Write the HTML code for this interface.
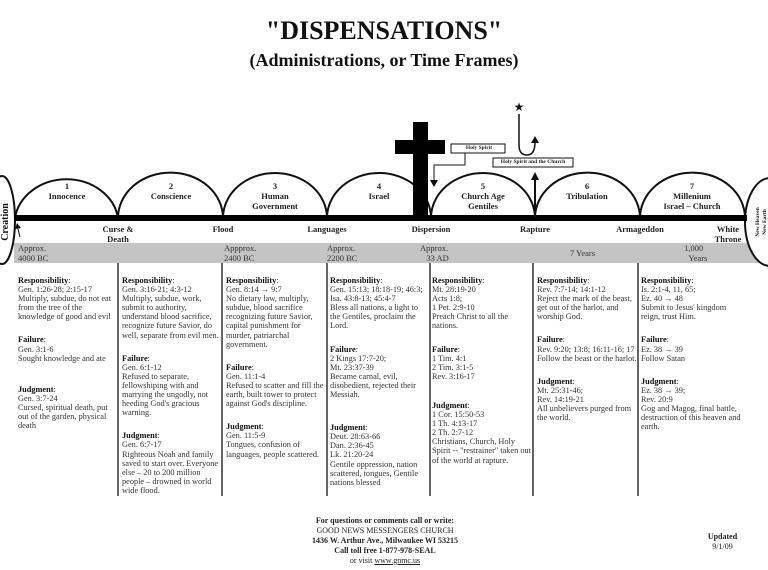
<!DOCTYPE html>
<html><head><meta charset="utf-8"><style>
body{margin:0;width:768px;height:570px;background:#fff;position:relative;overflow:hidden;font-family:"Liberation Serif",serif;color:#222}
.a{position:absolute}
.t{position:absolute;font-size:8.3px;line-height:9.1px;color:#333}
.t b{color:#111}
.t p{margin:0 0 14px 0}
.c{position:absolute;text-align:center;font-size:8.5px;line-height:10px;font-weight:bold;color:#222}
.g{position:absolute;font-size:8.5px;line-height:10px;color:#333}
</style></head><body>
<div class="a" style="left:0;width:768px;top:16px;text-align:center;font-size:26px;font-weight:bold;color:#111">"DISPENSATIONS"</div>
<div class="a" style="left:0;width:768px;top:50px;text-align:center;font-size:18px;font-weight:bold;color:#111">(Administrations, or Time Frames)</div>
<div class="a" style="left:14px;top:243px;width:754px;height:20px;background:#c4c4c4"></div>
<svg class="a" style="left:0;top:0" width="768" height="570">
<g fill="none" stroke="#111" stroke-width="2">
<path d="M15 218 A52 45 0 0 1 118 218"/><path d="M118 218 A52 45 0 0 1 223 218"/>
<path d="M223 218 A52 45 0 0 1 327 218"/><path d="M327 218 A52 45 0 0 1 431 218"/>
<path d="M431 218 A52 45 0 0 1 535 218"/><path d="M535 218 A52 45 0 0 1 640 218"/>
<path d="M640 218 A52 45 0 0 1 745 218"/>
<ellipse cx="2" cy="220" rx="13" ry="44" fill="#fff"/>
<ellipse cx="770" cy="222" rx="25" ry="44" fill="#fff"/>
</g>
<rect x="14" y="215" width="733" height="6" fill="#000"/>
<rect x="413" y="122" width="15" height="96" fill="#000"/>
<rect x="395" y="140" width="50" height="14" fill="#000"/>
<g stroke="#333" stroke-width="1.5">
<line x1="118" y1="263" x2="118" y2="496"/><line x1="222" y1="263" x2="222" y2="496"/>
<line x1="327" y1="263" x2="327" y2="496"/><line x1="430" y1="263" x2="430" y2="496"/>
<line x1="533" y1="263" x2="533" y2="496"/><line x1="638" y1="263" x2="638" y2="496"/>
</g>
<rect x="451" y="144" width="54" height="9" fill="#fff" stroke="#111" stroke-width="1"/>
<rect x="493" y="158" width="80" height="9" fill="#fff" stroke="#111" stroke-width="1"/>
<path d="M465 153 V165 H434 V181" fill="none" stroke="#111" stroke-width="1"/>
<path d="M430 180 L434 187 L438 180Z" fill="#111"/>
<line x1="535" y1="218" x2="535" y2="178" stroke="#111" stroke-width="2"/>
<path d="M531 180 L535 172 L539 180Z" fill="#111"/>
<path d="M519 114 V145 Q519 155 527 155 Q535 155 535 142" fill="none" stroke="#111" stroke-width="1.5"/>
<path d="M531 143 L535 136 L539 143Z" fill="#111"/>
<text x="519" y="111" font-size="12" text-anchor="middle" fill="#111">★</text>
<path d="M20 237 L17 225" stroke="#111" stroke-width="1"/><path d="M15 229 L17 223 L21 228Z" fill="#111"/>
<text x="8" y="222" transform="rotate(-90 8 222)" font-family="Liberation Serif" font-weight="bold" font-size="10" text-anchor="middle" fill="#111">Creation</text>
<text x="759" y="222" transform="rotate(-90 759 222)" font-family="Liberation Serif" font-weight="bold" font-size="5.5" text-anchor="middle" fill="#111">New Heaven</text>
<text x="766" y="222" transform="rotate(-90 766 222)" font-family="Liberation Serif" font-weight="bold" font-size="5.5" text-anchor="middle" fill="#111">New Earth</text>
</svg>
<div class="c" style="left:462px;top:144px;width:34px;font-size:5.5px;line-height:9px">Holy Spirit</div>
<div class="c" style="left:494px;top:158px;width:78px;font-size:5.5px;line-height:9px">Holy Spirit and the Church</div>
<div class="c" style="left:17px;top:181px;width:100px">1<br>Innocence</div>
<div class="c" style="left:121px;top:181px;width:100px">2<br>Conscience</div>
<div class="c" style="left:225px;top:181px;width:100px">3<br>Human<br>Government</div>
<div class="c" style="left:329px;top:181px;width:100px">4<br>Israel</div>
<div class="c" style="left:433px;top:181px;width:100px">5<br>Church Age<br>Gentiles</div>
<div class="c" style="left:537px;top:181px;width:100px">6<br>Tribulation</div>
<div class="c" style="left:642px;top:181px;width:100px">7<br>Millenium<br>Israel – Church</div>
<div class="c" style="left:88px;top:224px;width:60px">Curse &amp;<br>Death</div>
<div class="c" style="left:193px;top:224px;width:60px">Flood</div>
<div class="c" style="left:297px;top:224px;width:60px">Languages</div>
<div class="c" style="left:401px;top:224px;width:60px">Dispersion</div>
<div class="c" style="left:505px;top:224px;width:60px">Rapture</div>
<div class="c" style="left:610px;top:224px;width:60px">Armageddon</div>
<div class="c" style="left:708px;top:224px;width:40px">White<br>Throne</div>
<div class="g" style="left:18px;top:243px">Approx.<br>4000 BC</div>
<div class="g" style="left:224px;top:243px">Appprox.<br>2400 BC</div>
<div class="g" style="left:327px;top:243px">Approx.<br>2200 BC</div>
<div class="g" style="left:420px;top:243px">Approx.<br>&nbsp;&nbsp;&nbsp;33 AD</div>
<div class="g" style="left:570px;top:248px">7 Years</div>
<div class="g" style="left:682px;top:243px">&nbsp;1,000<br>&nbsp;&nbsp;&nbsp;Years</div>
<div class="t" style="left:18px;top:276px;width:100px"><p><b>Responsibility</b>:<br>Gen. 1:26-28; 2:15-17<br>Multiply, subdue, do not eat from the tree of the knowledge of good and evil</p><p><b>Failure</b>:<br>Gen. 3:1-6<br>Sought knowledge and ate</p><p style="margin-top:22px"><b>Judgment</b>:<br>Gen. 3:7-24<br>Cursed, spiritual death, put out of the garden, physical death</p></div>
<div class="t" style="left:122px;top:276px;width:100px"><p><b>Responsibility</b>:<br>Gen. 3:16-21; 4:3-12<br>Multiply, subdue, work, submit to authority, understand blood sacrifice, recognize future Savior, do well, separate from evil men.</p><p><b>Failure</b>:<br>Gen. 6:1-12<br>Refused to separate, fellowshiping with and marrying the ungodly, not heeding God's gracious warning.</p><p><b>Judgment</b>:<br>Gen. 6:7-17<br>Righteous Noah and family saved to start over. Everyone else – 20 to 200 million people – drowned in world wide flood.</p></div>
<div class="t" style="left:226px;top:276px;width:100px"><p><b>Responsibility</b>:<br>Gen. 8:14 → 9:7<br>No dietary law, multiply, subdue, blood sacrifice recognizing future Savior, capital punishment for murder, patriarchal government.</p><p><b>Failure</b>:<br>Gen. 11:1-4<br>Refused to scatter and fill the earth, built tower to protect against God's discipline.</p><p><b>Judgment</b>:<br>Gen. 11:5-9<br>Tongues, confusion of languages, people scattered.</p></div>
<div class="t" style="left:330px;top:276px;width:100px"><p><b>Responsibility</b>:<br>Gen. 15:13; 18:18-19; 46:3; Isa. 43:8-13; 45:4-7<br>Bless all nations, a light to the Gentiles, proclaim the Lord.</p><p><b>Failure</b>:<br>2 Kings 17:7-20;<br>Mt. 23:37-39<br>Became carnal, evil, disobedient, rejected their Messiah.</p><p style="margin-top:24px"><b>Judgment</b>:<br>Deut. 28:63-66<br>Dan. 2:36-45<br>Lk. 21:20-24<br>Gentile oppression, nation scattered, tongues, Gentile nations blessed</p></div>
<div class="t" style="left:432px;top:276px;width:100px"><p><b>Responsibility</b>:<br>Mt. 28:19-20<br>Acts 1:8;<br>1 Pet. 2:9-10<br>Preach Christ to all the nations.</p><p><b>Failure</b>:<br>1 Tim. 4:1<br>2 Tim. 3:1-5<br>Rev. 3:16-17</p><p style="margin-top:20px"><b>Judgment</b>:<br>1 Cor. 15:50-53<br>1 Th. 4:13-17<br>2 Th. 2:7-12<br>Christians, Church, Holy Spirit -- "restrainer" taken out of the world at rapture.</p></div>
<div class="t" style="left:537px;top:276px;width:100px"><p><b>Responsibility</b>:<br>Rev. 7:7-14; 14:1-12<br>Reject the mark of the beast, get out of the harlot, and worship God.</p><p><b>Failure</b>:<br>Rev. 9:20; 13:8; 16:11-16; 17<br>Follow the beast or the harlot.</p><p><b>Judgment</b>:<br>Mt. 25:31-46;<br>Rev. 14:19-21<br>All unbelievers purged from the world.</p></div>
<div class="t" style="left:641px;top:276px;width:100px"><p><b>Responsibility</b>:<br>Is. 2:1-4, 11, 65;<br>Ez. 40 → 48<br>Submit to Jesus' kingdom reign, trust Him.</p><p><b>Failure</b>:<br>Ez. 38 → 39<br>Follow Satan</p><p><b>Judgment</b>:<br>Ez. 38 → 39;<br>Rev. 20:9<br>Gog and Magog, final battle, destruction of this heaven and earth.</p></div>
<div class="c" style="left:290px;top:516px;width:190px;font-size:8px;line-height:10px">For questions or comments call or write:<br><span style="font-weight:normal">GOOD NEWS MESSENGERS CHURCH</span><br>1436 W. Arthur Ave., Milwaukee WI 53215<br>Call toll free 1-877-978-SEAL<br><span style="font-weight:normal">or visit <u>www.gnmc.us</u></span></div>
<div class="c" style="left:700px;top:532px;width:45px;font-size:8px;line-height:10px">Updated<br><span style="font-weight:normal">9/1/09</span></div>
</body></html>
